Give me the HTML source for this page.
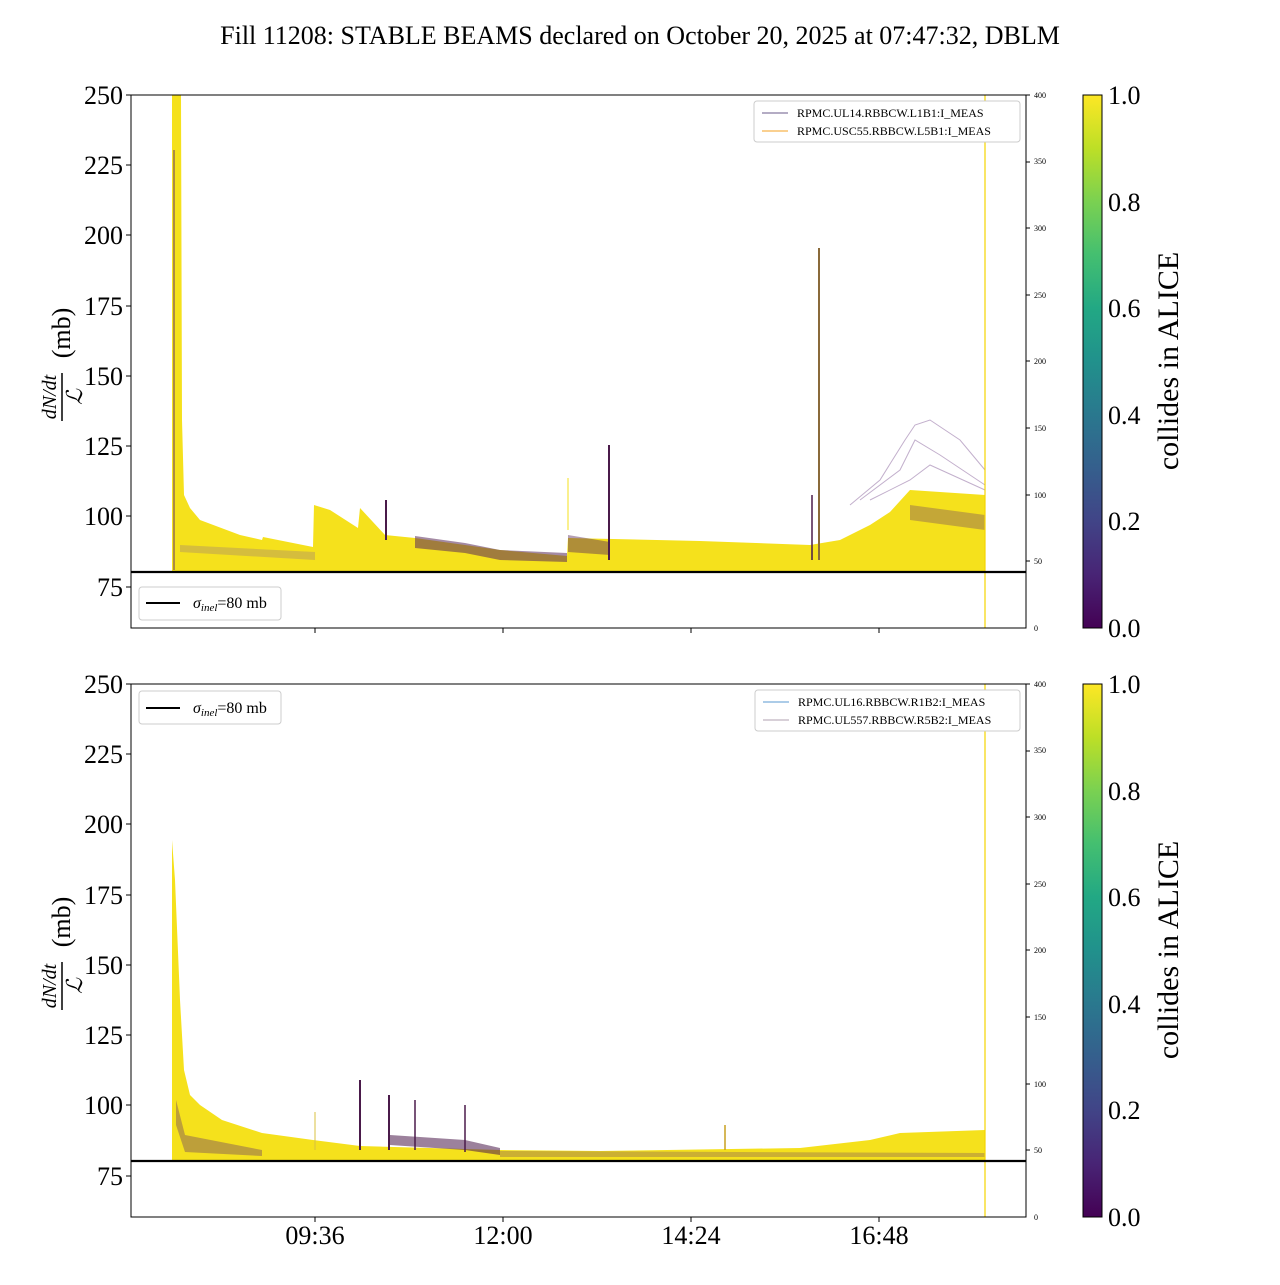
<!DOCTYPE html>
<html><head><meta charset="utf-8"><style>
body{margin:0;background:#fff}
svg text{font-family:"Liberation Serif","DejaVu Serif",serif}
</style></head><body>
<svg width="1280" height="1280" viewBox="0 0 1280 1280" xmlns="http://www.w3.org/2000/svg">
<defs>
<linearGradient id="vir" x1="0" y1="1" x2="0" y2="0">
<stop offset="0" stop-color="#440154"/><stop offset="0.1" stop-color="#482475"/><stop offset="0.2" stop-color="#414487"/><stop offset="0.3" stop-color="#355f8d"/><stop offset="0.4" stop-color="#2a788e"/><stop offset="0.5" stop-color="#21918c"/><stop offset="0.6" stop-color="#22a884"/><stop offset="0.7" stop-color="#44bf70"/><stop offset="0.8" stop-color="#7ad151"/><stop offset="0.9" stop-color="#bddf26"/><stop offset="1" stop-color="#fde725"/>
</linearGradient>
<clipPath id="c1"><rect x="131" y="95" width="895" height="533"/></clipPath>
<clipPath id="c2"><rect x="131" y="684" width="895" height="533"/></clipPath>
</defs>
<text x="640" y="44" font-size="26" text-anchor="middle">Fill 11208: STABLE BEAMS declared on October 20, 2025 at 07:47:32, DBLM</text>

<!-- TOP PANEL -->
<g clip-path="url(#c1)">
<polygon fill="#f5e11c" points="172,95 181,95 182,420 184,495 190,508 200,520 240,535 262,540 263,537 313,547 314,505 330,510 358,528 360,508 385,535 415,538 465,545 500,550 567,556 568,538 700,541 810,545 840,540 870,525 890,512 910,490 940,492 985,495 985,571 172,571"/>
<polygon fill="#5a2a5a" opacity="0.55" points="415,536 465,543 500,550 567,553 567,562 500,560 465,553 415,548"/>
<polygon fill="#5a2a5a" opacity="0.45" points="568,535 610,542 610,555 568,552"/>
<polygon fill="#6a3d6a" opacity="0.35" points="910,505 985,515 985,530 910,520"/>
<polygon fill="#8c6a8c" opacity="0.3" points="180,545 315,552 315,560 180,552"/>
<polyline fill="none" stroke="#9a7aaa" stroke-width="1" opacity="0.6" points="850,505 880,480 905,440 915,425 930,420 960,440 985,470"/>
<polyline fill="none" stroke="#9a7aaa" stroke-width="1" opacity="0.6" points="860,500 900,470 915,440 940,455 985,485"/>
<polyline fill="none" stroke="#9a7aaa" stroke-width="1" opacity="0.6" points="870,500 910,480 930,465 985,490"/>
<line x1="174" y1="150" x2="174" y2="570" stroke="#6a3d6a" stroke-width="1.5" opacity="0.7"/>
<line x1="386" y1="500" x2="386" y2="540" stroke="#4a1a4a" stroke-width="2"/>
<line x1="609" y1="445" x2="609" y2="560" stroke="#4a1a4a" stroke-width="2"/>
<line x1="819" y1="248" x2="819" y2="560" stroke="#8a6a3a" stroke-width="2"/>
<line x1="812" y1="495" x2="812" y2="560" stroke="#4a1a4a" stroke-width="1.5"/>
<line x1="568" y1="478" x2="568" y2="530" stroke="#f5e11c" stroke-width="1"/>
</g>
<line x1="985" y1="95" x2="985" y2="628" stroke="#f5d400" stroke-width="1.2"/>
<line x1="131" y1="572" x2="1026" y2="572" stroke="#000" stroke-width="2.2"/>
<rect x="131" y="95" width="895" height="533" fill="none" stroke="#000" stroke-width="1"/>
<g font-size="26" text-anchor="end">
<text x="123" y="104">250</text><text x="123" y="174">225</text><text x="123" y="244">200</text><text x="123" y="315">175</text><text x="123" y="385">150</text><text x="123" y="455">125</text><text x="123" y="525">100</text><text x="123" y="596">75</text>
</g>
<g stroke="#000"><line x1="126" y1="95" x2="131" y2="95"/><line x1="126" y1="165" x2="131" y2="165"/><line x1="126" y1="235" x2="131" y2="235"/><line x1="126" y1="306" x2="131" y2="306"/><line x1="126" y1="376" x2="131" y2="376"/><line x1="126" y1="446" x2="131" y2="446"/><line x1="126" y1="516" x2="131" y2="516"/><line x1="126" y1="587" x2="131" y2="587"/>
<line x1="315" y1="628" x2="315" y2="633"/><line x1="503" y1="628" x2="503" y2="633"/><line x1="691" y1="628" x2="691" y2="633"/><line x1="879" y1="628" x2="879" y2="633"/></g>
<g font-size="8"><text x="1034" y="98">400</text><text x="1034" y="231">300</text><text x="1034" y="164">350</text><text x="1034" y="298">250</text><text x="1034" y="364">200</text><text x="1034" y="431">150</text><text x="1034" y="498">100</text><text x="1034" y="564">50</text><text x="1034" y="631">0</text></g>
<g stroke="#000"><line x1="1026" y1="95" x2="1030" y2="95"/><line x1="1026" y1="162" x2="1030" y2="162"/><line x1="1026" y1="228" x2="1030" y2="228"/><line x1="1026" y1="295" x2="1030" y2="295"/><line x1="1026" y1="361" x2="1030" y2="361"/><line x1="1026" y1="428" x2="1030" y2="428"/><line x1="1026" y1="495" x2="1030" y2="495"/><line x1="1026" y1="561" x2="1030" y2="561"/></g>
<g transform="translate(62,361) rotate(-90)" text-anchor="middle">
<text x="-36" y="-6" font-size="20" font-style="italic">dN/dt</text>
<line x1="-60" y1="0" x2="-12" y2="0" stroke="#000" stroke-width="1.5"/>
<text x="-36" y="20" font-size="22" font-style="italic">ℒ</text>
<text x="28" y="8" font-size="26">(mb)</text>
</g>
<rect x="754" y="101" width="266" height="41" rx="3" fill="#fff" stroke="#ccc"/>
<line x1="762" y1="113" x2="788" y2="113" stroke="#6a5a8a"/><text x="797" y="117" font-size="12">RPMC.UL14.RBBCW.L1B1:I_MEAS</text>
<line x1="762" y1="131" x2="788" y2="131" stroke="#f5a020"/><text x="797" y="135" font-size="12">RPMC.USC55.RBBCW.L5B1:I_MEAS</text>
<rect x="139" y="587" width="142" height="33" rx="3" fill="#fff" stroke="#ccc"/>
<line x1="146" y1="603" x2="180" y2="603" stroke="#000" stroke-width="2"/>
<text x="193" y="608" font-size="16"><tspan font-style="italic">σ</tspan><tspan font-size="11" font-style="italic" dy="3">inel</tspan><tspan dy="-3">=80 mb</tspan></text>
<rect x="1083" y="95" width="19" height="533" fill="url(#vir)" stroke="#000" stroke-width="1"/>
<g font-size="26"><text x="1108" y="104">1.0</text><text x="1108" y="211">0.8</text><text x="1108" y="317">0.6</text><text x="1108" y="424">0.4</text><text x="1108" y="530">0.2</text><text x="1108" y="637">0.0</text></g>
<text transform="translate(1178,361) rotate(-90)" font-size="30" text-anchor="middle">collides in ALICE</text>

<!-- BOTTOM PANEL -->
<g clip-path="url(#c2)">
<polygon fill="#f5e11c" points="172,840 175,880 180,1000 184,1070 190,1095 200,1105 222,1120 262,1133 313,1140 360,1146 500,1150 600,1151 800,1148 870,1140 900,1133 985,1130 985,1160 172,1160"/>
<polygon fill="#4a1a4a" opacity="0.55" points="390,1135 465,1140 500,1148 500,1155 465,1150 390,1145"/>
<polygon fill="#6a3d6a" opacity="0.4" points="176,1100 185,1135 262,1150 262,1156 185,1152 176,1125"/>
<polygon fill="#6a3d6a" opacity="0.3" points="500,1151 985,1153 985,1157 500,1157"/>
<line x1="360" y1="1080" x2="360" y2="1150" stroke="#4a1a4a" stroke-width="2"/>
<line x1="389" y1="1095" x2="389" y2="1150" stroke="#4a1a4a" stroke-width="2"/>
<line x1="415" y1="1100" x2="415" y2="1150" stroke="#4a1a4a" stroke-width="1.5"/>
<line x1="465" y1="1105" x2="465" y2="1152" stroke="#4a1a4a" stroke-width="1.5"/>
<line x1="725" y1="1125" x2="725" y2="1150" stroke="#c8a020" stroke-width="1.5"/>
<line x1="315" y1="1112" x2="315" y2="1150" stroke="#d8c040" stroke-width="1"/>
</g>
<line x1="985" y1="684" x2="985" y2="1217" stroke="#f5d400" stroke-width="1.2"/>
<line x1="131" y1="1161" x2="1026" y2="1161" stroke="#000" stroke-width="2.2"/>
<rect x="131" y="684" width="895" height="533" fill="none" stroke="#000" stroke-width="1"/>
<g font-size="26" text-anchor="end">
<text x="123" y="693">250</text><text x="123" y="763">225</text><text x="123" y="833">200</text><text x="123" y="904">175</text><text x="123" y="974">150</text><text x="123" y="1044">125</text><text x="123" y="1114">100</text><text x="123" y="1185">75</text>
</g>
<g stroke="#000"><line x1="126" y1="684" x2="131" y2="684"/><line x1="126" y1="754" x2="131" y2="754"/><line x1="126" y1="824" x2="131" y2="824"/><line x1="126" y1="895" x2="131" y2="895"/><line x1="126" y1="965" x2="131" y2="965"/><line x1="126" y1="1035" x2="131" y2="1035"/><line x1="126" y1="1105" x2="131" y2="1105"/><line x1="126" y1="1176" x2="131" y2="1176"/>
<line x1="315" y1="1217" x2="315" y2="1222"/><line x1="503" y1="1217" x2="503" y2="1222"/><line x1="691" y1="1217" x2="691" y2="1222"/><line x1="879" y1="1217" x2="879" y2="1222"/></g>
<g font-size="26" text-anchor="middle"><text x="315" y="1244">09:36</text><text x="503" y="1244">12:00</text><text x="691" y="1244">14:24</text><text x="879" y="1244">16:48</text></g>
<g font-size="8"><text x="1034" y="687">400</text><text x="1034" y="753">350</text><text x="1034" y="820">300</text><text x="1034" y="887">250</text><text x="1034" y="953">200</text><text x="1034" y="1020">150</text><text x="1034" y="1087">100</text><text x="1034" y="1153">50</text><text x="1034" y="1220">0</text></g>
<g stroke="#000"><line x1="1026" y1="684" x2="1030" y2="684"/><line x1="1026" y1="751" x2="1030" y2="751"/><line x1="1026" y1="817" x2="1030" y2="817"/><line x1="1026" y1="884" x2="1030" y2="884"/><line x1="1026" y1="950" x2="1030" y2="950"/><line x1="1026" y1="1017" x2="1030" y2="1017"/><line x1="1026" y1="1084" x2="1030" y2="1084"/><line x1="1026" y1="1150" x2="1030" y2="1150"/></g>
<g transform="translate(62,950) rotate(-90)" text-anchor="middle">
<text x="-36" y="-6" font-size="20" font-style="italic">dN/dt</text>
<line x1="-60" y1="0" x2="-12" y2="0" stroke="#000" stroke-width="1.5"/>
<text x="-36" y="20" font-size="22" font-style="italic">ℒ</text>
<text x="28" y="8" font-size="26">(mb)</text>
</g>
<rect x="755" y="690" width="265" height="41" rx="3" fill="#fff" stroke="#ccc"/>
<line x1="763" y1="702" x2="789" y2="702" stroke="#5a9ad0"/><text x="798" y="706" font-size="12">RPMC.UL16.RBBCW.R1B2:I_MEAS</text>
<line x1="763" y1="720" x2="789" y2="720" stroke="#b0a0b0"/><text x="798" y="724" font-size="12">RPMC.UL557.RBBCW.R5B2:I_MEAS</text>
<rect x="139" y="691" width="142" height="33" rx="3" fill="#fff" stroke="#ccc"/>
<line x1="146" y1="708" x2="180" y2="708" stroke="#000" stroke-width="2"/>
<text x="193" y="713" font-size="16"><tspan font-style="italic">σ</tspan><tspan font-size="11" font-style="italic" dy="3">inel</tspan><tspan dy="-3">=80 mb</tspan></text>
<rect x="1083" y="684" width="19" height="533" fill="url(#vir)" stroke="#000" stroke-width="1"/>
<g font-size="26"><text x="1108" y="693">1.0</text><text x="1108" y="800">0.8</text><text x="1108" y="906">0.6</text><text x="1108" y="1013">0.4</text><text x="1108" y="1119">0.2</text><text x="1108" y="1226">0.0</text></g>
<text transform="translate(1178,950) rotate(-90)" font-size="30" text-anchor="middle">collides in ALICE</text>
</svg>
</body></html>
